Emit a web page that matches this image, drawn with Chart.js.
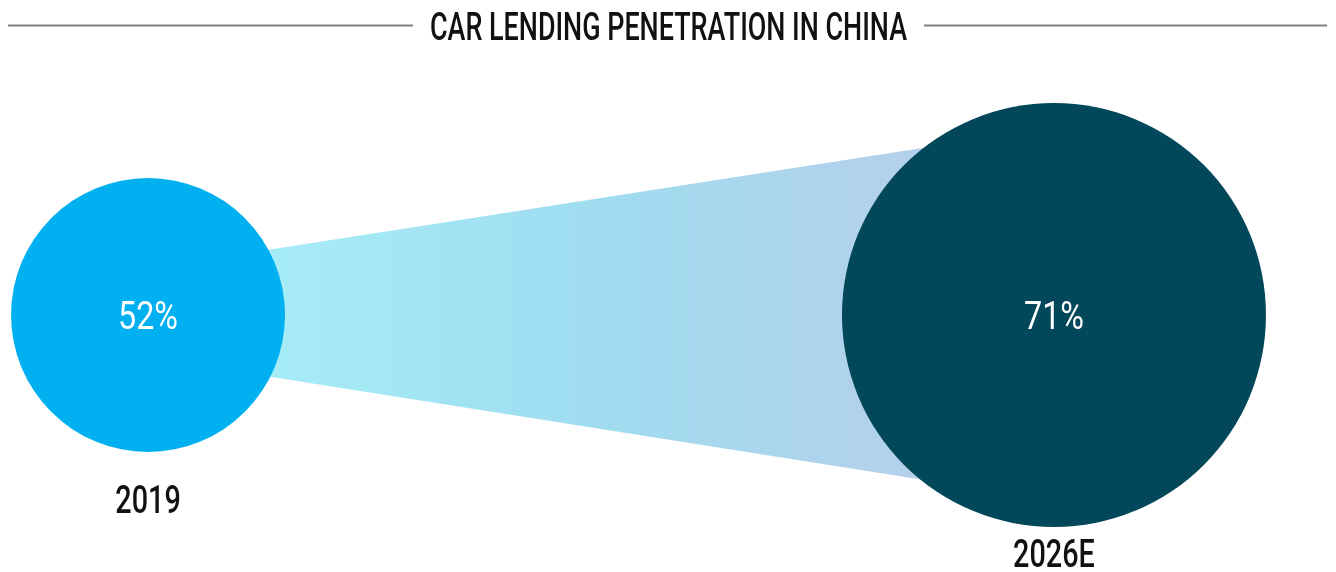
<!DOCTYPE html>
<html>
<head>
<meta charset="utf-8">
<title>Car lending penetration in China</title>
<script src="https://cdn.jsdelivr.net/npm/chart.js@4.4.1/dist/chart.umd.min.js"></script>
<style>
  html, body { margin: 0; padding: 0; background: #fff; }
  canvas { display: block; }
</style>
</head>
<body>
<canvas id="chart" width="1336" height="572"></canvas>
<script>
// data
const chartTitle = 'CAR LENDING PENETRATION IN CHINA';
const years = ['2019', '2026E'];
const penetration = [52, 71];
const bubbleColors = ['#00B0F0', '#03475A'];

// bubble size scale: value -> radius px
const sizeDomain = [52, 71];
const sizeRange = [137, 212];
function sizeScale(v) {
  const t = (v - sizeDomain[0]) / (sizeDomain[1] - sizeDomain[0]);
  return sizeRange[0] + t * (sizeRange[1] - sizeRange[0]);
}

const FAMILY = 'Roboto, "Noto Sans", sans-serif';
const FONT = '500 39px ' + FAMILY;
const TITLE_WIDTH = 477;   // squeeze the font to a condensed look
let squeeze = 0.68;

function getSqueeze(ctx) {
  ctx.save();
  ctx.font = FONT;
  const s = TITLE_WIDTH / ctx.measureText(chartTitle).width;
  ctx.restore();
  return s;
}

// title with rules left and right
const titlePlugin = {
  id: 'titleRules',
  afterDraw(chart) {
    const ctx = chart.ctx;
    squeeze = getSqueeze(ctx);
    const cx = 668.5, w = TITLE_WIDTH, gap = 17, ly = 25.5;
    ctx.save();
    ctx.strokeStyle = '#808080';
    ctx.lineWidth = 2;
    ctx.beginPath();
    ctx.moveTo(8, ly); ctx.lineTo(cx - w / 2 - gap, ly);
    ctx.moveTo(cx + w / 2 + gap, ly); ctx.lineTo(chart.width - 9, ly);
    ctx.stroke();
    ctx.font = FONT;
    ctx.translate(cx, 39.5);
    ctx.scale(squeeze, 1);
    ctx.textAlign = 'center';
    ctx.textBaseline = 'alphabetic';
    ctx.fillStyle = '#111111';
    ctx.fillText(chartTitle, 0, 0);
    ctx.restore();
  }
};

// gradient band between the two bubbles
const bandPlugin = {
  id: 'band',
  beforeDatasetsDraw(chart) {
    const pts = chart.getDatasetMeta(0).data;
    if (pts.length < 2) return;
    const a = pts[0], b = pts[1];
    const ra = a.options.radius, rb = b.options.radius;
    const ctx = chart.ctx;
    const g = ctx.createLinearGradient(a.x + ra * 0.9, 0, b.x - rb * 0.6, 0);
    g.addColorStop(0, '#A6ECF7');
    g.addColorStop(0.5, '#9FDCF0');
    g.addColorStop(1, '#B5D0EA');
    ctx.save();
    ctx.beginPath();
    ctx.moveTo(a.x, a.y - ra * 0.34);
    ctx.lineTo(b.x, b.y - rb * 0.885);
    ctx.lineTo(b.x, b.y + rb * 0.875);
    ctx.lineTo(a.x, a.y + ra * 0.31);
    ctx.closePath();
    ctx.fillStyle = g;
    ctx.fill();
    ctx.restore();
  }
};

// value inside each bubble, year underneath
const labelPlugin = {
  id: 'labels',
  afterDatasetsDraw(chart) {
    const ctx = chart.ctx;
    squeeze = getSqueeze(ctx);
    const pts = chart.getDatasetMeta(0).data;
    pts.forEach((p, i) => {
      const r = p.options.radius;
      const yearY = Math.min(p.y + r + 61, chart.height - 5);
      ctx.save();
      ctx.textAlign = 'center';
      ctx.textBaseline = 'alphabetic';
      ctx.translate(p.x, 0);

      ctx.save();
      ctx.scale(squeeze * 1.2, 1);
      ctx.font = '400 39px ' + FAMILY;
      ctx.fillStyle = '#FFFFFF';
      ctx.fillText(penetration[i] + '%', 0, p.y + 13.5);
      ctx.restore();

      ctx.scale(squeeze * 1.07, 1);
      ctx.font = FONT;
      ctx.fillStyle = '#111111';
      ctx.fillText(years[i], 0, yearY);
      ctx.restore();
    });
  }
};

new Chart(document.getElementById('chart'), {
  type: 'bubble',
  data: {
    labels: years,
    datasets: [{
      data: penetration.map((v, i) => ({ x: i, y: 0, r: sizeScale(v) })),
      backgroundColor: bubbleColors,
      borderWidth: 0,
      hoverRadius: 0,
      clip: false
    }]
  },
  options: {
    responsive: false,
    animation: false,
    layout: { autoPadding: false, padding: 0 },
    plugins: { legend: { display: false }, tooltip: { enabled: false } },
    events: [],
    scales: {
      x: { type: 'linear', display: false, min: -0.1634, max: 1.3113 },
      y: { type: 'linear', display: false, min: -257, max: 315 }
    }
  },
  plugins: [bandPlugin, labelPlugin, titlePlugin]
});
</script>
</body>
</html>
